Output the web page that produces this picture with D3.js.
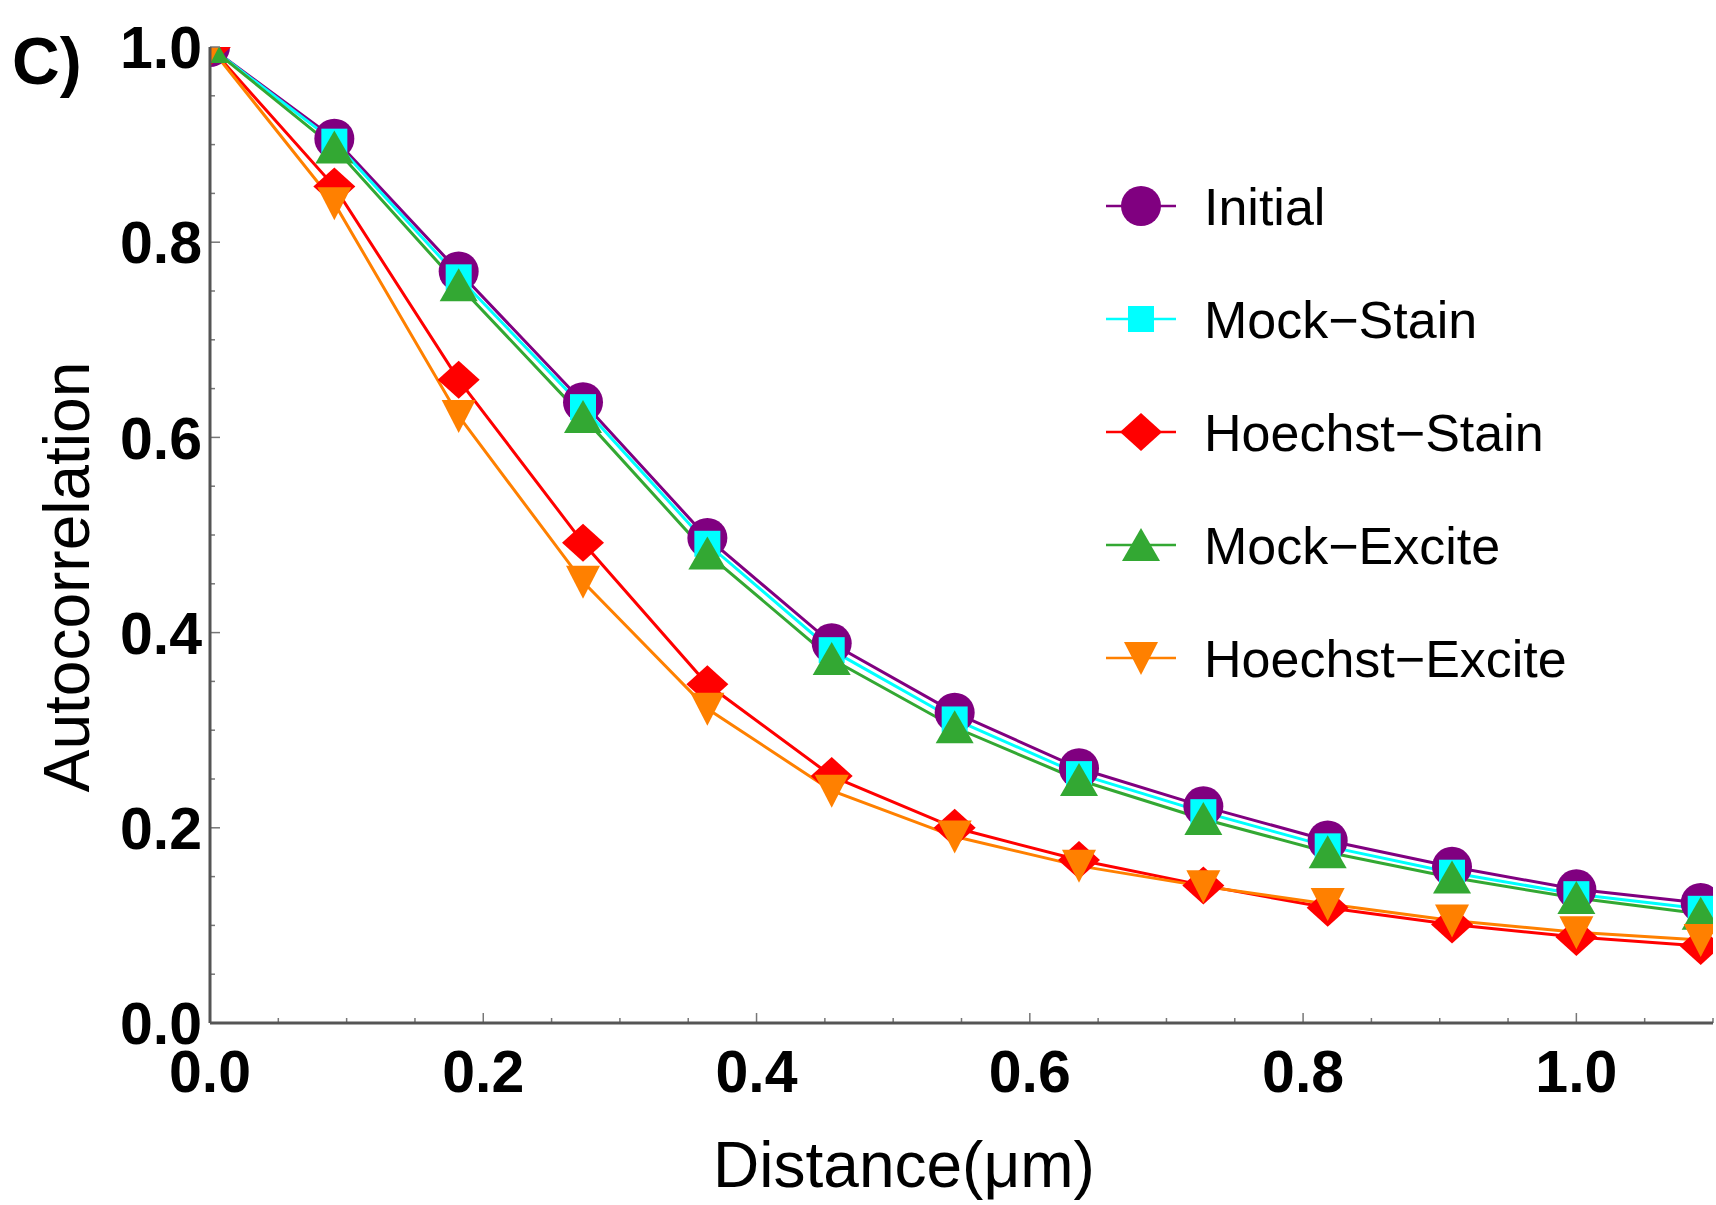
<!DOCTYPE html>
<html>
<head>
<meta charset="utf-8">
<script src="https://cdn.jsdelivr.net/npm/d3@7"></script>
<style>
  body { margin: 0; background: #fff; }
  svg { display: block; font-family: "Liberation Sans", Arial, sans-serif; }
</style>
</head>
<body>
<div id="chart"></div>
<script>
// Data
const distance = [0, 0.091, 0.182, 0.273, 0.364, 0.455, 0.545, 0.636, 0.727, 0.818, 0.909, 1.0, 1.091];
const initial = [1.0, 0.906, 0.770, 0.636, 0.497, 0.389, 0.318, 0.261, 0.222, 0.187, 0.160, 0.137, 0.123];
const mockStain = [1.0, 0.903, 0.764, 0.631, 0.491, 0.382, 0.311, 0.255, 0.216, 0.181, 0.154, 0.132, 0.117];
const hoechstStain = [1.0, 0.857, 0.659, 0.492, 0.347, 0.253, 0.200, 0.167, 0.141, 0.118, 0.101, 0.088, 0.079];
const mockExcite = [1.0, 0.897, 0.756, 0.621, 0.481, 0.373, 0.303, 0.249, 0.209, 0.175, 0.149, 0.128, 0.112];
const hoechstExcite = [1.0, 0.840, 0.622, 0.452, 0.322, 0.238, 0.191, 0.161, 0.140, 0.122, 0.105, 0.093, 0.085];

const seriesNames = ["Initial", "Mock\u2212Stain", "Hoechst\u2212Stain", "Mock\u2212Excite", "Hoechst\u2212Excite"];
const seriesValues = [initial, mockStain, hoechstStain, mockExcite, hoechstExcite];
const seriesColors = ["#800080", "#00ffff", "#ff0000", "#33a833", "#ff8000"];
const seriesShapes = ["circle", "square", "diamond", "triangleUp", "triangleDown"];

const xTicks = [0.0, 0.2, 0.4, 0.6, 0.8, 1.0];
const yTicks = [0.0, 0.2, 0.4, 0.6, 0.8, 1.0];

const W = 1716, H = 1205;
const plot = { left: 210, right: 1713, top: 47, bottom: 1023 };

const svg = d3.select("#chart").append("svg")
  .attr("width", W)
  .attr("height", H);

const x = d3.scaleLinear().domain([0, 1.1]).range([plot.left, plot.right]);
const y = d3.scaleLinear().domain([0, 1]).range([plot.bottom, plot.top]);

// marker shapes, centred on the point
function markerPath(shape) {
  switch (shape) {
    case "circle": {
      const r = 20;
      return `M${-r},0A${r},${r} 0 1,0 ${r},0A${r},${r} 0 1,0 ${-r},0Z`;
    }
    case "square": {
      const s = 13;
      return `M${-s},${-s}H${s}V${s}H${-s}Z`;
    }
    case "diamond":
      return "M0,-19L21,0L0,19L-21,0Z";
    case "triangleUp":
      return "M0,-17L19,16L-19,16Z";
    case "triangleDown":
      return "M0,17L17,-16L-17,-16Z";
  }
}

svg.append("defs").append("clipPath").attr("id", "plotClip")
  .append("rect")
  .attr("x", plot.left).attr("y", plot.top)
  .attr("width", plot.right - plot.left)
  .attr("height", plot.bottom - plot.top);

const series = seriesNames.map((name, i) => ({
  name: name,
  color: seriesColors[i],
  shape: seriesShapes[i],
  points: distance.map((d, j) => ({ x: d, y: seriesValues[i][j] }))
}));

const line = d3.line().x(d => x(d.x)).y(d => y(d.y));

const plotArea = svg.append("g").attr("clip-path", "url(#plotClip)");

plotArea.selectAll(".line")
  .data(series)
  .enter()
  .append("path")
  .attr("class", "line")
  .attr("d", d => line(d.points))
  .attr("fill", "none")
  .attr("stroke", d => d.color)
  .attr("stroke-width", 3);

series.forEach(s => {
  plotArea.selectAll(null)
    .data(s.points)
    .enter()
    .append("path")
    .attr("transform", d => `translate(${x(d.x)},${y(d.y)})`)
    .attr("d", markerPath(s.shape))
    .attr("fill", s.color);
});

// axes
const xMinor = d3.range(0, 1.1001, 0.05);
const yMinor = d3.range(0, 1.0001, 0.05);

svg.append("g")
  .selectAll("line")
  .data(xMinor)
  .enter()
  .append("line")
  .attr("x1", d => x(d)).attr("x2", d => x(d))
  .attr("y1", plot.bottom)
  .attr("y2", d => plot.bottom - (xTicks.some(t => Math.abs(t - d) < 1e-6) ? 10 : 5))
  .attr("stroke", "#777")
  .attr("stroke-width", 1.5);

svg.append("g")
  .selectAll("line")
  .data(yMinor)
  .enter()
  .append("line")
  .attr("y1", d => y(d)).attr("y2", d => y(d))
  .attr("x1", plot.left)
  .attr("x2", d => plot.left + (yTicks.some(t => Math.abs(t - d) < 1e-6) ? 10 : 5))
  .attr("stroke", "#777")
  .attr("stroke-width", 1.5);

svg.append("line")
  .attr("x1", plot.left).attr("x2", plot.right)
  .attr("y1", plot.bottom).attr("y2", plot.bottom)
  .attr("stroke", "#555").attr("stroke-width", 3);

svg.append("line")
  .attr("x1", plot.left).attr("x2", plot.left)
  .attr("y1", plot.top).attr("y2", plot.bottom)
  .attr("stroke", "#555").attr("stroke-width", 3);

svg.append("g")
  .selectAll("text")
  .data(yTicks)
  .enter()
  .append("text")
  .attr("x", plot.left - 8)
  .attr("y", d => y(d))
  .attr("dy", "0.36em")
  .attr("text-anchor", "end")
  .attr("font-size", 59)
  .attr("font-weight", "bold")
  .text(d => d.toFixed(1));

svg.append("g")
  .selectAll("text")
  .data(xTicks)
  .enter()
  .append("text")
  .attr("x", d => x(d))
  .attr("y", plot.bottom + 69)
  .attr("text-anchor", "middle")
  .attr("font-size", 59)
  .attr("font-weight", "bold")
  .text(d => d.toFixed(1));

// axis titles
svg.append("text")
  .attr("text-anchor", "middle")
  .attr("x", 904)
  .attr("y", 1187)
  .attr("font-size", 64)
  .text("Distance(\u03bcm)");

svg.append("text")
  .attr("text-anchor", "middle")
  .attr("transform", "rotate(-90)")
  .attr("x", -577)
  .attr("y", 89)
  .attr("font-size", 64)
  .text("Autocorrelation");

svg.append("text")
  .attr("x", 12)
  .attr("y", 84)
  .attr("font-size", 66)
  .attr("font-weight", "bold")
  .text("C)");

// legend
const legend = svg.append("g")
  .selectAll("g")
  .data(series)
  .enter()
  .append("g")
  .attr("transform", (d, i) => `translate(1141,${206 + i * 113})`);

legend.append("line")
  .attr("x1", -35).attr("x2", 35)
  .attr("stroke", d => d.color)
  .attr("stroke-width", 2.5);

legend.append("path")
  .attr("d", d => markerPath(d.shape))
  .attr("fill", d => d.color);

legend.append("text")
  .attr("x", 63)
  .attr("dy", "0.36em")
  .attr("font-size", 52)
  .text(d => d.name);
</script>
</body>
</html>
